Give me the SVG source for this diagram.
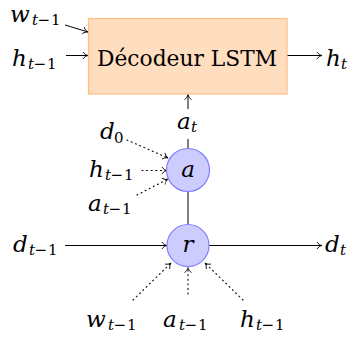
<svg xmlns="http://www.w3.org/2000/svg" width="350" height="337" viewBox="0 0 350 337">
<style>
.m{font-size:23px;font-style:italic}
.s{font-size:15px}
.i{font-style:italic}
.ln{stroke:#000;stroke-width:1;fill:none}
.dt{stroke:#000;stroke-width:1.1;fill:none;stroke-dasharray:1 3.6;stroke-linecap:round}
.box{fill:#FFDDBF;stroke:#FFBF80;stroke-width:1.2}
.circ{fill:#CCCCFF;stroke:#8080FF;stroke-width:1.2}
</style>
<defs>
<marker id="ar" viewBox="-6 -5 7 10" refX="0" refY="0" markerWidth="7" markerHeight="10" markerUnits="userSpaceOnUse" orient="auto">
<path d="M-5,-3.5 C-4,-1.5 -1.5,-0.3 0,0 C-1.5,0.3 -4,1.5 -5,3.5" fill="none" stroke="#000" stroke-width="0.9"/>
</marker>
</defs>
<g id="connectors">
<line class="ln" x1="65" y1="25" x2="88" y2="32" marker-end="url(#ar)"/>
<line class="ln" x1="66" y1="55.5" x2="88" y2="55.5" marker-end="url(#ar)"/>
<line class="ln" x1="287" y1="55.5" x2="322" y2="55.5" marker-end="url(#ar)"/>
<line class="ln" x1="188" y1="109" x2="188" y2="94.5" marker-end="url(#ar)"/>
<line class="ln" x1="188" y1="139" x2="188" y2="148.5"/>
<line class="ln" x1="188" y1="191.5" x2="188" y2="224.5"/>
<line class="ln" x1="65" y1="245.5" x2="167" y2="245.5" marker-end="url(#ar)"/>
<line class="ln" x1="209" y1="245.5" x2="322" y2="245.5" marker-end="url(#ar)"/>
<line class="dt" x1="127" y1="140" x2="168" y2="158" marker-end="url(#ar)"/>
<line class="dt" x1="142" y1="170.5" x2="167" y2="170.5" marker-end="url(#ar)"/>
<line class="dt" x1="137" y1="195" x2="168" y2="179" marker-end="url(#ar)"/>
<line class="dt" x1="133" y1="300" x2="171" y2="263" marker-end="url(#ar)"/>
<line class="dt" x1="188" y1="294" x2="188" y2="267.5" marker-end="url(#ar)"/>
<line class="dt" x1="243" y1="300" x2="205" y2="263" marker-end="url(#ar)"/>
</g>
<g font-family="DejaVu Serif, serif" fill="#000">
<g id="node-lstm">
<rect class="box" x="88.5" y="18.5" width="198.5" height="75.5"/>
<text x="187" y="65.5" font-size="23" text-anchor="middle" textLength="180" lengthAdjust="spacingAndGlyphs">Décodeur LSTM</text>
</g>
<g id="node-a">
<circle class="circ" cx="188" cy="170" r="21.5"/>
<text class="m" x="188" y="177" text-anchor="middle">a</text>
</g>
<g id="node-r">
<circle class="circ" cx="188" cy="245.5" r="21"/>
<text class="m" x="188" y="252" text-anchor="middle">r</text>
</g>
<g id="labels">
<text><tspan class="m" x="10" y="22">w</tspan><tspan class="s i" x="32" y="25">t</tspan><tspan class="s" x="37.5">−</tspan><tspan class="s" x="51">1</tspan></text>
<text><tspan class="m" x="12" y="66">h</tspan><tspan class="s i" x="28" y="69">t</tspan><tspan class="s" x="33.5">−</tspan><tspan class="s" x="47">1</tspan></text>
<text><tspan class="m" x="326" y="66">h</tspan><tspan class="s i" x="341" y="69">t</tspan></text>
<text><tspan class="m" x="177" y="129">a</tspan><tspan class="s i" x="191" y="132">t</tspan></text>
<text><tspan class="m" x="100" y="139">d</tspan><tspan class="s" x="114" y="143">0</tspan></text>
<text><tspan class="m" x="89" y="177">h</tspan><tspan class="s i" x="105" y="180">t</tspan><tspan class="s" x="110.5">−</tspan><tspan class="s" x="124">1</tspan></text>
<text><tspan class="m" x="88" y="211">a</tspan><tspan class="s i" x="103" y="214">t</tspan><tspan class="s" x="108.5">−</tspan><tspan class="s" x="122">1</tspan></text>
<text><tspan class="m" x="13" y="252">d</tspan><tspan class="s i" x="29" y="255">t</tspan><tspan class="s" x="34.5">−</tspan><tspan class="s" x="48">1</tspan></text>
<text><tspan class="m" x="325" y="252">d</tspan><tspan class="s i" x="340" y="255">t</tspan></text>
<text><tspan class="m" x="86" y="327">w</tspan><tspan class="s i" x="108" y="330">t</tspan><tspan class="s" x="113.5">−</tspan><tspan class="s" x="127">1</tspan></text>
<text><tspan class="m" x="163" y="327">a</tspan><tspan class="s i" x="179" y="330">t</tspan><tspan class="s" x="184.5">−</tspan><tspan class="s" x="198">1</tspan></text>
<text><tspan class="m" x="240" y="327">h</tspan><tspan class="s i" x="256" y="330">t</tspan><tspan class="s" x="261.5">−</tspan><tspan class="s" x="275">1</tspan></text>
</g>
</g>
</svg>
